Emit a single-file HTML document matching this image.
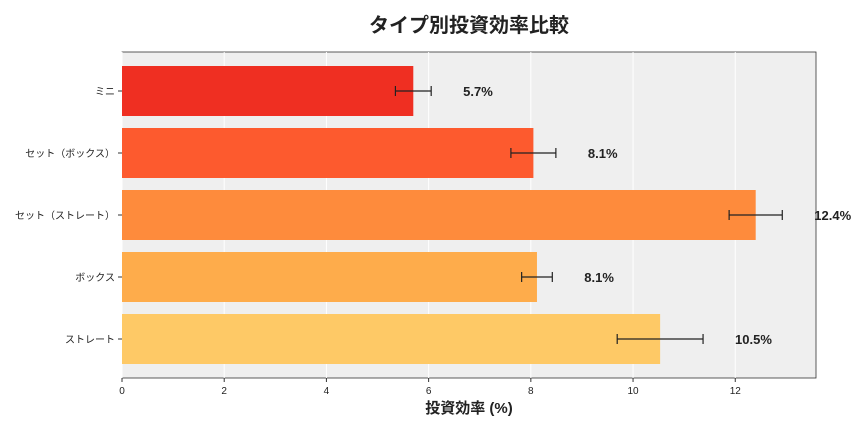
<!DOCTYPE html>
<html><head><meta charset="utf-8"><style>
body{margin:0;background:#fff;width:864px;height:432px;overflow:hidden;font-family:"Liberation Sans","Noto Sans CJK JP",sans-serif}
</style></head><body>
<svg id="chart" width="864" height="432" xmlns="http://www.w3.org/2000/svg" font-family="Liberation Sans, Noto Sans CJK JP, sans-serif">
<text x="469" y="32" text-anchor="middle" font-size="20" font-weight="bold" fill="#222">タイプ別投資効率比較</text>
<rect x="122" y="52" width="694" height="326" fill="#efefef" stroke="#333" stroke-width="0.8"/>
<g id="grid"></g><g id="bars"></g><g id="xaxis"></g><g id="yaxis"></g>
<text x="469" y="413" text-anchor="middle" font-size="15" font-weight="bold" fill="#222">投資効率 (%)</text>
</svg>
<script>
const categories=["ミニ","セット（ボックス）","セット（ストレート）","ボックス","ストレート"];
const values=[5.7,8.05,12.4,8.12,10.53];
const errors=[0.35,0.44,0.52,0.3,0.84];
const labels=["5.7%","8.1%","12.4%","8.1%","10.5%"];
const colors=["#ef2f22","#fd5a2e","#fe8b3c","#feac4b","#fec966"];
const xticks=[0,2,4,6,8,10,12];
const NS="http://www.w3.org/2000/svg";
const X0=122,X1=816,XMAX=13.58,Y0=52,STEP=62,BH=50;
const xs=v=>X0+v/XMAX*(X1-X0);
const yc=i=>Y0+39+i*STEP;
function mk(t,a,p){const e=document.createElementNS(NS,t);for(const k in a)e.setAttribute(k,a[k]);p.appendChild(e);return e;}
const g=document.getElementById('grid'),b=document.getElementById('bars'),xa=document.getElementById('xaxis'),ya=document.getElementById('yaxis');
xticks.forEach(t=>{
 const l=mk('line',{x1:xs(t),x2:xs(t),y1:Y0,y2:378,stroke:'#fff','stroke-width':1},g);
 
 mk('line',{x1:xs(t),x2:xs(t),y1:378,y2:382,stroke:'#333'},xa);
 const tx=mk('text',{x:xs(t),y:394,'text-anchor':'middle','font-size':10,fill:'#222'},xa);tx.textContent=t;
 
});
categories.forEach((c,i)=>{
 const y=yc(i);
 const r=mk('rect',{x:X0,y:y-BH/2,width:xs(values[i])-X0,height:BH,fill:colors[i]},b);
 
 const e1=xs(values[i]-errors[i]),e2=xs(values[i]+errors[i]);
 const eb=mk('g',{stroke:'#222','stroke-width':1.2},b);
 
 mk('line',{x1:e1,x2:e2,y1:y,y2:y},eb);mk('line',{x1:e1,x2:e1,y1:y-5,y2:y+5},eb);mk('line',{x1:e2,x2:e2,y1:y-5,y2:y+5},eb);
 const vl=mk('text',{x:e2+32,y:y+5,'font-size':13,'font-weight':'bold',fill:'#222'},b);vl.textContent=labels[i];
 
 mk('line',{x1:X0-4,x2:X0,y1:y,y2:y,stroke:'#333'},ya);
 const tl=mk('text',{x:X0-7,y:y+4,'text-anchor':'end','font-size':10,fill:'#222'},ya);tl.textContent=c;
 
});
</script>
</body></html>
